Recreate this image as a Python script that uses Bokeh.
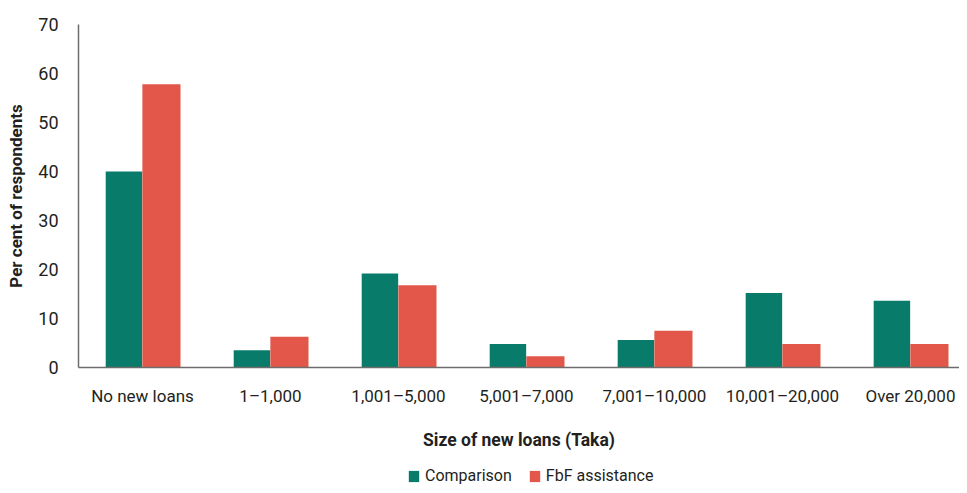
import numpy as np
from bokeh.plotting import figure
from bokeh.layouts import column
from bokeh.models import Range1d, FixedTicker, Legend, LegendItem, ColumnDataSource
from bokeh.transform import dodge
from bokeh.embed import file_html
from bokeh.resources import INLINE

categories = ["No new loans", "1\u20131,000", "1,001\u20135,000", "5,001\u20137,000",
              "7,001\u201310,000", "10,001\u201320,000", "Over 20,000"]
comparison = [40.0, 3.5, 19.2, 4.8, 5.6, 15.2, 13.6]
fbf = [57.8, 6.3, 16.8, 2.3, 7.5, 4.8, 4.8]
y_ticks = [0, 10, 20, 30, 40, 50, 60, 70]
series_names = ["Comparison", "FbF assistance"]

FONT = "Roboto"
TEXT = "#231f20"
TEAL = "#097b6b"
RED = "#e3564a"

centers = np.arange(len(categories)) + 0.5
src = ColumnDataSource(dict(x=centers, comp=comparison, fbf=fbf))

p = figure(width=959, height=452, output_backend="svg", toolbar_location=None,
           x_range=Range1d(0, 6.883), y_range=Range1d(0, 70),
           min_border_left=78, min_border_right=0, min_border_top=24, min_border_bottom=78)
p.outline_line_color = None
p.xgrid.visible = False
p.ygrid.visible = False

r1 = p.vbar(x=dodge("x", -0.145, range=p.x_range), top="comp", width=0.285, source=src,
            fill_color=TEAL, line_color=None)
r2 = p.vbar(x=dodge("x", 0.148, range=p.x_range), top="fbf", width=0.298, source=src,
            fill_color=RED, line_color=None)

xa = p.xaxis[0]
xa.ticker = FixedTicker(ticks=list(centers))
xa.major_label_overrides = {float(c): lab for c, lab in zip(centers, categories)}
xa.major_tick_line_color = None
xa.minor_tick_line_color = None
xa.axis_line_color = "#6d6d6d"
xa.axis_line_width = 1.5
xa.major_label_text_font = FONT
xa.major_label_text_font_size = "17px"
xa.major_label_text_color = TEXT
xa.major_label_standoff = 12
xa.axis_label = "Size of new loans (Taka)"
xa.axis_label_text_font = FONT
xa.axis_label_text_font_size = "17.5px"
xa.axis_label_text_font_style = "bold"
xa.axis_label_text_color = TEXT
xa.axis_label_standoff = 21

ya = p.yaxis[0]
ya.ticker = FixedTicker(ticks=y_ticks)
ya.major_tick_line_color = None
ya.minor_tick_line_color = None
ya.axis_line_color = "#6d6d6d"
ya.axis_line_width = 1.5
ya.major_label_text_font = FONT
ya.major_label_text_font_size = "18px"
ya.major_label_text_color = TEXT
ya.major_label_standoff = 14
ya.axis_label = "Per cent of respondents"
ya.axis_label_text_font = FONT
ya.axis_label_text_font_size = "17px"
ya.axis_label_text_font_style = "bold"
ya.axis_label_text_color = TEXT
ya.axis_label_standoff = 9

# legend strip below the chart (proxy renderers kept out of view)
lg = figure(width=959, height=33, output_backend="svg", toolbar_location=None,
            x_range=Range1d(-20, -10), y_range=Range1d(-20, -10),
            x_axis_location=None, y_axis_location=None,
            min_border_left=0, min_border_right=0, min_border_top=0, min_border_bottom=0)
lg.outline_line_color = None
lg.xgrid.visible = False
lg.ygrid.visible = False
lg.background_fill_color = None
lg.border_fill_color = None
k1 = lg.vbar(x="x", top="comp", width=0.1, source=src, fill_color=TEAL, line_color=None)
k2 = lg.vbar(x="x", top="fbf", width=0.1, source=src, fill_color=RED, line_color=None)
legend = Legend(items=[LegendItem(label=series_names[0], renderers=[k1]),
                       LegendItem(label=series_names[1], renderers=[k2])],
                orientation="horizontal", location=(329, 0),
                glyph_width=13, glyph_height=14, label_text_font=FONT,
                label_text_font_size="16px", label_text_color=TEXT,
                label_standoff=5, spacing=16, padding=0, margin=0,
                border_line_color=None, background_fill_alpha=0)
lg.add_layout(legend, "center")

open("out.html", "w").write(file_html(column(p, lg, spacing=0), INLINE))
